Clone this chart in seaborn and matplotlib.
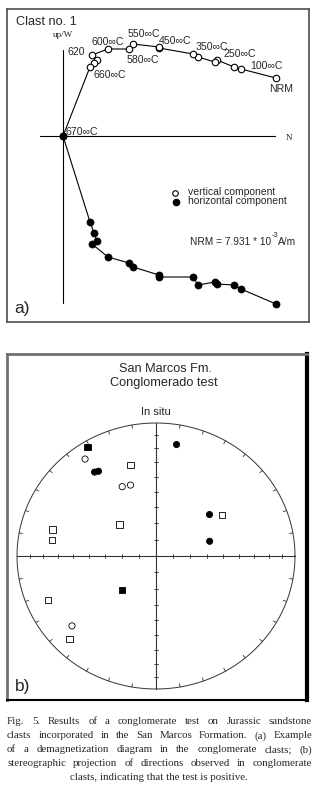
import numpy as np
import pandas as pd
import matplotlib
matplotlib.use("Agg")
import matplotlib.pyplot as plt
import seaborn as sns

# ---------------- data: panel a (Zijderveld diagram, arbitrary units) ----------------
steps = ["NRM", "100", "100b", "250", "250b", "350", "350b", "450", "450b",
         "550", "580", "600", "620", "620b", "620c", "660", "670"]
north = [213, 178, 171, 154, 152, 135, 130, 96, 96, 70, 66, 45, 29, 34, 31, 27, 0]
up_w = [58, 67, 69, 76, 74, 79, 82, 88, 89, 92, 87, 87, 81, 76, 73, 69, 0]
horiz = [-168, -153, -149, -148, -146, -149, -141, -141, -139, -131, -127, -121,
         -108, -105, -97, -86, 0]
temp_labels = ["620", "600∞C", "550∞C", "450∞C", "350∞C", "250∞C", "100∞C",
               "NRM", "580∞C", "660∞C", "670∞C"]

# ---------------- data: panel b (stereographic projection) ----------------
dec = [329, 325, 327, 325, 345, 335, 341, 10, 51, 57, 312, 285, 279, 74, 224, 247, 229, 225]
inc = [5, 12, 25, 24, 30, 42, 43, 16, 49, 43, 61, 24, 25, 57, 61, 17, 21, 13]
shape = ["square", "circle", "circle", "circle", "square", "circle", "circle", "circle",
         "circle", "square", "square", "square", "square", "circle", "square", "square",
         "circle", "square"]
hemisphere = ["lower", "upper", "lower", "lower", "upper", "upper", "upper", "lower",
              "lower", "upper", "upper", "upper", "upper", "lower", "lower", "upper",
              "upper", "upper"]

caption_lines = [
    "Fig. 5. Results of a conglomerate test on Jurassic sandstone",
    "clasts incorporated in the San Marcos Formation. (a) Example",
    "of a demagnetization diagram in the conglomerate clasts; (b)",
    "stereographic projection of directions observed in conglomerate",
    "clasts, indicating that the test is positive.",
]

# ---------------- style ----------------
sns.set_style("white")
plt.rcParams["font.family"] = ["Liberation Sans", "DejaVu Sans"]

W, H = 319, 791
fig = plt.figure(figsize=(W / 100, H / 100), dpi=100)
fig.canvas.draw()
renderer = fig.canvas.get_renderer()


def fig_rect(x0, y0, x1, y1):
    return [x0 / W, 1 - y1 / H, (x1 - x0) / W, (y1 - y0) / H]


def px_text(px, py, s, size, family=None, **kw):
    """Place a figure text at pixel position (from top-left); return its pixel width."""
    t = fig.text(px / W, 1 - py / H, s, fontsize=size,
                 family=family if family else ["Liberation Sans", "DejaVu Sans"], **kw)
    return t.get_window_extent(renderer).width


def text_w(s, size, family):
    t = fig.text(0, 0, s, fontsize=size, family=family)
    w = t.get_window_extent(renderer).width
    t.remove()
    return w


# ================= panel a =================
ax = fig.add_axes(fig_rect(7, 9, 309, 322))
ax.set_xlim(-56, 246)
ax.set_ylim(-186, 127)
ax.set_xticks([])
ax.set_yticks([])
for s in ax.spines.values():
    s.set_color("#5a5a5a")
    s.set_linewidth(1.3)

ax.plot([0, 0], [86, -167], color="black", lw=0.8)
ax.plot([-23, 212], [0, 0], color="black", lw=0.8)
ax.text(-10, 101, "up/W", fontsize=6.5, family=["Liberation Serif"], va="center", ha="left")
ax.text(223, -2, "N", fontsize=6.5, family=["Liberation Serif"], va="center", ha="left")

zij = pd.DataFrame({"step": steps, "north": north, "up": up_w, "horiz": horiz})
sns.lineplot(data=zij, x="north", y="up", sort=False, color="black", lw=0.8, ax=ax,
             estimator=None)
sns.lineplot(data=zij, x="north", y="horiz", sort=False, color="black", lw=0.8, ax=ax,
             estimator=None)
sns.scatterplot(data=zij, x="north", y="up", ax=ax, marker="o", s=22,
                facecolor="white", edgecolor="black", linewidth=0.8, zorder=3)
sns.scatterplot(data=zij, x="north", y="horiz", ax=ax, marker="o", s=26,
                color="black", edgecolor="black", linewidth=0.5, zorder=3)
ax.set_xlabel("")
ax.set_ylabel("")

label_pos = [(5, 84), (29, 94), (65, 102), (96, 95), (133, 89), (160, 82), (187, 70),
             (206, 47), (64, 76), (30, 61), (3, 4)]
for txt, (lx, ly) in zip(temp_labels, label_pos):
    ax.text(lx, ly, txt, fontsize=7.6, ha="left", va="center")

ax.text(-47, 114, "Clast no. 1", fontsize=9.2, ha="left", va="center")

# legend
ax.scatter([112], [-57], s=16, facecolor="white", edgecolor="black", linewidth=0.8)
ax.scatter([113], [-66], s=20, color="black")
ax.text(125, -56, "vertical component", fontsize=7.5, ha="left", va="center")
ax.text(125, -65, "horizontal component", fontsize=7.5, ha="left", va="center")
ax.text(-49, -172, "a)", fontsize=12.5, ha="left", va="center")

# NRM intensity, placed piece by piece
x_cur = 190
x_cur += px_text(x_cur, 242, "NRM = 7.931 * 10", 7.3, va="center") + 0.5
x_cur += px_text(x_cur, 236, "-3", 5.3, va="center")
px_text(x_cur, 242, "A/m", 7.3, va="center")

# ================= panel b =================
bx = fig.add_axes(fig_rect(7, 354, 307, 700))
bx.set_xlim((7 - 156) / 139, (307 - 156) / 139)
bx.set_ylim((556 - 700) / 133, (556 - 354) / 133)
bx.set_xticks([])
bx.set_yticks([])
bx.spines["left"].set_color("#707070")
bx.spines["left"].set_linewidth(2.0)
bx.spines["top"].set_color("#707070")
bx.spines["top"].set_linewidth(2.0)
bx.spines["right"].set_color("black")
bx.spines["right"].set_linewidth(3.0)
bx.spines["bottom"].set_color("black")
bx.spines["bottom"].set_linewidth(1.5)

th = np.linspace(0, 2 * np.pi, 721)
bx.plot(np.cos(th), np.sin(th), color="#333333", lw=0.7)
for a in range(0, 360, 10):
    ar = np.radians(a)
    bx.plot([0.975 * np.sin(ar), np.sin(ar)], [0.975 * np.cos(ar), np.cos(ar)],
            color="#333333", lw=0.6)
bx.plot([-1, 1], [0, 0], color="#333333", lw=0.8)
bx.plot([0, 0], [-1, 1], color="#333333", lw=0.8)
for i in range(10, 90, 10):
    r = np.sqrt(2) * np.sin(np.radians((90 - i) / 2))
    for sgn in (-1, 1):
        bx.plot([sgn * r, sgn * r], [-0.015, 0.015], color="#333333", lw=0.6)
        bx.plot([-0.0144, 0.0144], [sgn * r, sgn * r], color="#333333", lw=0.6)

d = np.radians(np.array(dec, dtype=float))
rr = np.sqrt(2) * np.sin(np.radians((90 - np.array(inc, dtype=float)) / 2))
stereo = pd.DataFrame({"x": rr * np.sin(d), "y": rr * np.cos(d),
                       "shape": shape, "hemisphere": hemisphere})
sns.scatterplot(data=stereo, x="x", y="y", hue="hemisphere", style="shape",
                palette={"lower": "black", "upper": "white"},
                markers={"circle": "o", "square": "s"}, s=20,
                edgecolor="black", linewidth=0.6, legend=False, ax=bx, zorder=3)
bx.set_xlabel("")
bx.set_ylabel("")

bx.text(0.065, (556 - 369) / 133, "San Marcos Fm.", fontsize=9.2, ha="center", va="center")
bx.text(0.058, (556 - 383) / 133, "Conglomerado test", fontsize=9.2, ha="center",
        va="center")
bx.text(0.0, (556 - 412) / 133, "In situ", fontsize=8, ha="center", va="center")
bx.text((15 - 156) / 139, (556 - 687) / 133, "b)", fontsize=12.5, ha="left", va="center")

# ================= caption (justified) =================
cap_family = ["Liberation Serif"]
x_left, x_right = 7.0, 312.0
line_y = [721, 735, 749, 763, 777]
for k, (line, yc) in enumerate(zip(caption_lines, line_y)):
    size = 7.8
    words = line.split(" ")
    if k == len(caption_lines) - 1:
        px_text(159, yc, line, size, family=cap_family, ha="center", va="center_baseline")
        continue
    widths = [text_w(w_, size, cap_family) for w_ in words]
    while sum(widths) + 2.0 * (len(words) - 1) > (x_right - x_left) and size > 6:
        size -= 0.1
        widths = [text_w(w_, size, cap_family) for w_ in words]
    gap = (x_right - x_left - sum(widths)) / (len(words) - 1)
    x = x_left
    for w_, ww in zip(words, widths):
        px_text(x, yc, w_, size, family=cap_family, ha="left", va="center_baseline")
        x += ww + gap

fig.savefig("out.png", dpi=100)
